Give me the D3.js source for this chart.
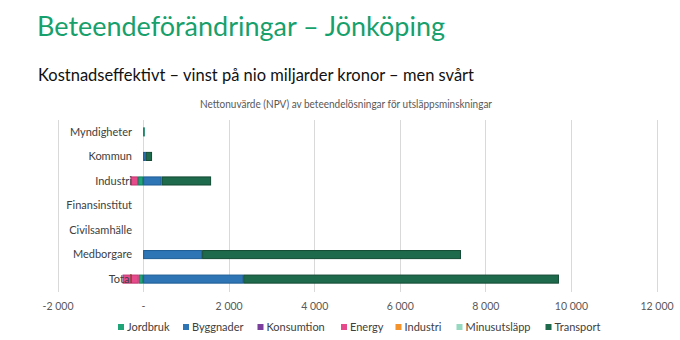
<!DOCTYPE html>
<html><head><meta charset="utf-8">
<script src="https://cdn.jsdelivr.net/npm/d3@7"></script>
<style>body{margin:0;background:#fff;} svg{display:block;}</style>
</head><body>
<svg id="c" width="680" height="340"></svg>
<script>
const categories = ["Myndigheter","Kommun","Industri","Finansinstitut","Civilsamhälle","Medborgare","Total"];
const seriesNames = ["Jordbruk","Byggnader","Konsumtion","Energy","Industri","Minusutsläpp","Transport"];
const seriesColors = ["#1EA476","#2E75B6","#7A3E9D","#E64A8B","#F4922C","#96D8C0","#1E6A4C"];
const strokeColors = ["#168060","#1F5C94","#5C2C78","#C03470","#C87018","#70B8A0","#134A34"];
const jordbruk   = [40, 0, -117, 0, 0, 0, -100];
const byggnader  = [0, 65, 430, 0, 0, 1380, 2340];
const konsumtion = [0, 0, 0, 0, 0, 0, 0];
const energy     = [0, 0, -178, 0, 0, 0, -380];
const industri   = [0, 0, 0, 0, 0, 0, 0];
const minus      = [0, 0, 0, 0, 0, 0, 0];
const transport  = [0, 145, 1160, 0, 0, 6050, 7380];
const tickValues = [-2000, 0, 2000, 4000, 6000, 8000, 10000, 12000];
const tickLabels = ["-2 000", "-", "2 000", "4 000", "6 000", "8 000", "10 000", "12 000"];

const seriesVals = [jordbruk, byggnader, konsumtion, energy, industri, minus, transport];
const font = "Lato, 'Open Sans', sans-serif";
const svg = d3.select("#c");

function fitText(sel, w){
  const n = sel.node(); const l = n.getComputedTextLength();
  sel.attr("textLength", w).attr("lengthAdjust","spacingAndGlyphs");
}
fitText(svg.append("text").attr("x",37).attr("y",36).attr("font-family",font).attr("font-size",27)
  .attr("fill","#17A06B").text("Beteendeförändringar – Jönköping"), 408);
fitText(svg.append("text").attr("x",38).attr("y",81).attr("font-family",font).attr("font-size",17.5)
  .attr("fill","#111").text("Kostnadseffektivt – vinst på nio miljarder kronor – men svårt"), 436);
fitText(svg.append("text").attr("x",200).attr("y",108).attr("font-family",font).attr("font-size",10.5)
  .attr("fill","#595959").text("Nettonuvärde (NPV) av beteendelösningar för utsläppsminskningar"), 292);

const x = d3.scaleLinear().domain([-2000, 12000]).range([57.5, 656.5]);
const y = d3.scaleBand().domain(categories).range([120, 291]).paddingInner(0.63).paddingOuter(0.3);

// grid
svg.append("g").selectAll("line").data(tickValues).join("line")
  .attr("x1", d=>Math.round(x(d))+0.5).attr("x2", d=>Math.round(x(d))+0.5)
  .attr("y1", 120).attr("y2", 292).attr("stroke","#D9D9D9").attr("stroke-width",1);

// stacks (positive and negative separately)
const segs = [];
categories.forEach((c,i)=>{
  let pos = 0, neg = 0;
  seriesVals.forEach((arr,s)=>{
    const v = arr[i]; if(!v) return;
    if(v>0){ segs.push({c, s, x0:pos, x1:pos+v}); pos+=v; }
    else { segs.push({c, s, x0:neg+v, x1:neg}); neg+=v; }
  });
});
svg.append("g").selectAll("rect").data(segs).join("rect")
  .attr("x", d=>x(d.x0)+0.5).attr("width", d=>Math.max(0.5, x(d.x1)-x(d.x0)-1))
  .attr("y", d=>y(d.c)+0.5).attr("height", y.bandwidth()-1)
  .attr("fill", d=>seriesColors[d.s]).attr("stroke", d=>strokeColors[d.s]).attr("stroke-width",1);

// category labels
svg.append("g").selectAll("text").data(categories).join("text")
  .attr("x", 132).attr("y", d=>y(d)+y.bandwidth()/2).attr("dy","0.35em")
  .attr("text-anchor","end").attr("font-family",font).attr("font-size",11).attr("fill","#404040")
  .text(d=>d);

// x tick labels
const ax = d3.axisBottom(x).tickValues(tickValues).tickFormat((d,i)=>tickLabels[i]).tickSize(0).tickPadding(0);
const gx = svg.append("g").attr("transform","translate(0,310)").call(ax);
gx.select(".domain").remove();
gx.selectAll("text").attr("font-family",font).attr("font-size",10.5).attr("fill","#595959").attr("dy","0");

// legend
const legX = [118, 183, 257.5, 341, 395.5, 456.5, 545.5];
const lg = svg.append("g").selectAll("g").data(seriesNames).join("g")
  .attr("transform",(d,i)=>`translate(${legX[i]},327)`);
lg.append("rect").attr("x",0).attr("y",-3).attr("width",6).attr("height",6)
  .attr("fill",(d,i)=>seriesColors[i]);
lg.append("text").attr("x",9).attr("y",0).attr("dy","0.35em").attr("font-family",font)
  .attr("font-size",11).attr("fill","#404040").text(d=>d);
</script>
</body></html>
